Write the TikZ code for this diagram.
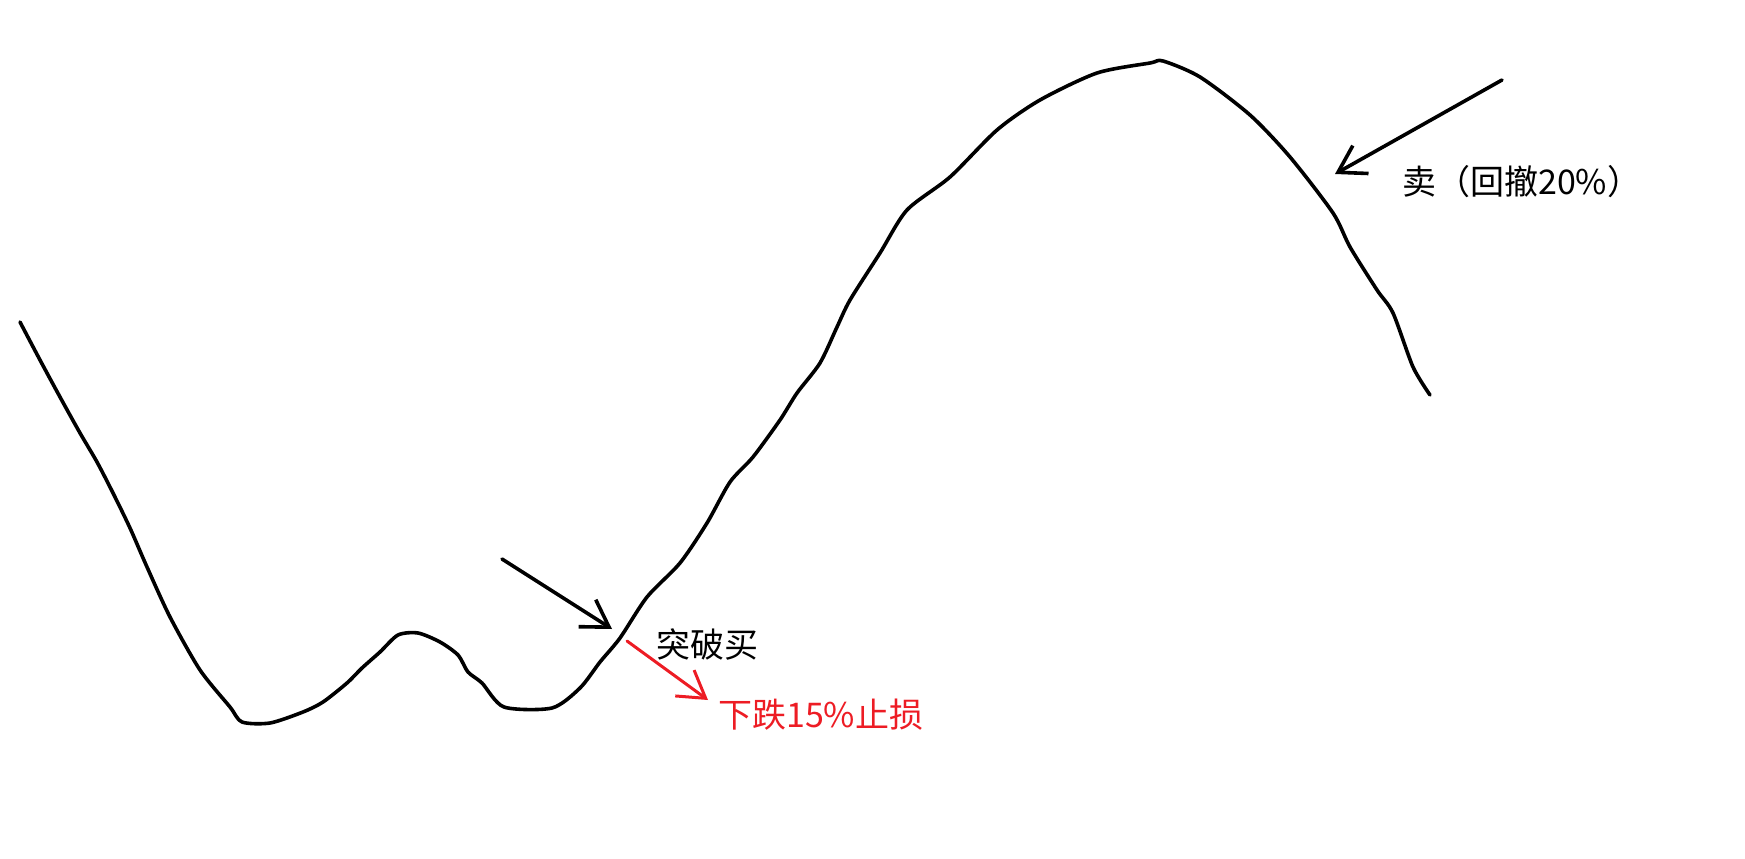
\documentclass[tikz,border=0pt]{standalone}
\usepackage{fontspec}
\newfontfamily\cjk{Noto Sans CJK SC}
\usetikzlibrary{arrows.meta}
\definecolor{paintred}{RGB}{237,28,36}

\begin{document}
\begin{tikzpicture}[x=1pt,y=-1pt,
  hand/.style={line width=3.6pt,line cap=round,line join=round},
  barb/.style={hand,-{Straight Barb[length=26pt,width=32pt]}},
  note/.style={font=\cjk\fontsize{34}{40}\selectfont,inner sep=0pt,anchor=base west}]

\useasboundingbox (0,0) rectangle (1745,859);

% price curve
\draw[hand] plot[smooth,tension=0.45] coordinates {
  (20,322) (40,360) (60,397) (80,433) (97,462) (113,493) (130,528)
  (147,567) (170,617) (200,670) (230,707) (242,722) (270,723) (303,712)
  (323,702) (347,683) (362,668) (380,652) (398,635) (418,633) (440,642)
  (458,655) (468,672) (482,683) (504,707) (552,708) (580,688) (600,662)
  (620,638) (647,597) (680,563) (707,523) (730,482) (753,457) (780,420)
  (797,393) (820,363) (837,327) (850,300) (880,253) (907,210) (950,177)
  (997,130) (1040,100) (1097,73) (1150,63) (1163,61) (1200,77) (1250,115)
  (1290,157) (1333,213) (1350,247) (1377,290) (1393,313) (1413,367)
  (1430,395)};

\coordinate (buyTail) at (502,559);
\coordinate (buyTip) at (612,629);
\coordinate (sellTail) at (1502,80);
\coordinate (sellTip) at (1335,174);
\coordinate (stopTail) at (627,641);
\coordinate (stopTip) at (708,700);

\node[note] (buy) at (656,657) {突破买};
\node[note,text=paintred] (stop) at (718,727) {下跌15\%止损};
\node[note] (sell) at (1402,194) {卖（回撤20\%）};

\path[barb] (buyTail) edge (buyTip) (sellTail) edge (sellTip);
\path[barb,paintred,line width=3pt] (stopTail) edge (stopTip);

\end{tikzpicture}
\end{document}
